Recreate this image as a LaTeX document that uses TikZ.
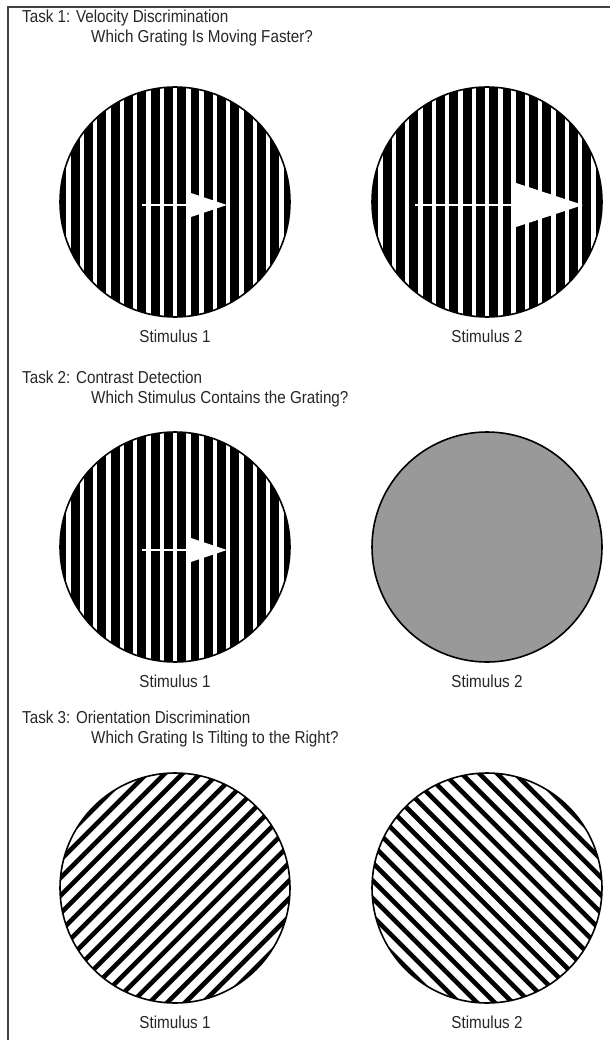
\documentclass[tikz,border=0pt]{standalone}
\usepackage{fontspec}
\setmainfont[FakeStretch=0.88]{Liberation Sans}
\usetikzlibrary{arrows.meta, positioning, calc}

\begin{document}
\begin{tikzpicture}[x=1pt, y=-1pt,
        task/.style={anchor=base west, inner sep=0pt, font=\fontsize{17.3}{19}\selectfont, text=black!85},
        question/.style={task},
        caption/.style={inner sep=0pt, font=\fontsize{17.3}{19}\selectfont, text=black!85},
        disc/.style={circle, draw, line width=1.6pt, minimum size=230pt, inner sep=0pt},
        vbars/.style={fill=black, path picture={
            \foreach \k in {-9,...,9}
              \fill[white] ($(path picture bounding box.center)+(\k*13.3-2.2,-120)$) rectangle ++(4.4,240);}},
        % #1 = 1 for /, -1 for \
        dbars/.style={fill=white, path picture={
            \foreach \k in {-10,...,10}
              \draw[line width=4.6pt]
                ($(path picture bounding box.center)+({0.7071*(\k*12.6-140)},{#1*0.7071*(\k*12.6+140)})$) --
                ($(path picture bounding box.center)+({0.7071*(\k*12.6+140)},{#1*0.7071*(\k*12.6-140)})$);}},
        move/.style={white, line width=2pt, -{Triangle[length=#1, width=0.65*#1]}}
    ]
    \useasboundingbox (0,0) rectangle (610,1040);
    \draw[black!75, line width=1.3pt] (8,1040) -- (8,7) -- (610,7);

    % Task 1
    \node[task] (t1) at (22,23) {Task 1: Velocity Discrimination};
    \node[question] (q1) at (91,43) {Which Grating Is Moving Faster?};
    \node[disc, vbars] (g11) at (175,202) {};
    \node[disc, vbars] (g12) at (487,202) {};
    \draw[move=37pt] ([shift={(-33,3)}]g11.center) -- ([shift={(52,3)}]g11.center);
    \draw[move=72pt] ([shift={(-72,3)}]g12.center) -- ([shift={(96,3)}]g12.center);
    \node[caption, below=12pt of g11] (s11) {Stimulus 1};
    \node[caption, below=12pt of g12] (s12) {Stimulus 2};

    % Task 2
    \node[task] (t2) at (22,383) {Task 2: Contrast Detection};
    \node[question] (q2) at (91,403) {Which Stimulus Contains the Grating?};
    \node[disc, vbars] (g21) at (175,547) {};
    \node[disc, fill=black!40] (g22) at (487,547) {};
    \draw[move=37pt] ([shift={(-33,3)}]g21.center) -- ([shift={(52,3)}]g21.center);
    \node[caption, below=12pt of g21] (s21) {Stimulus 1};
    \node[caption, below=12pt of g22] (s22) {Stimulus 2};

    % Task 3
    \node[task] (t3) at (22,723) {Task 3: Orientation Discrimination};
    \node[question] (q3) at (91,743) {Which Grating Is Tilting to the Right?};
    \node[disc, dbars=1] (g31) at (175,888) {};
    \node[disc, dbars=-1] (g32) at (487,888) {};
    \node[caption, below=12pt of g31] (s31) {Stimulus 1};
    \node[caption, below=12pt of g32] (s32) {Stimulus 2};

\end{tikzpicture}
\end{document}
